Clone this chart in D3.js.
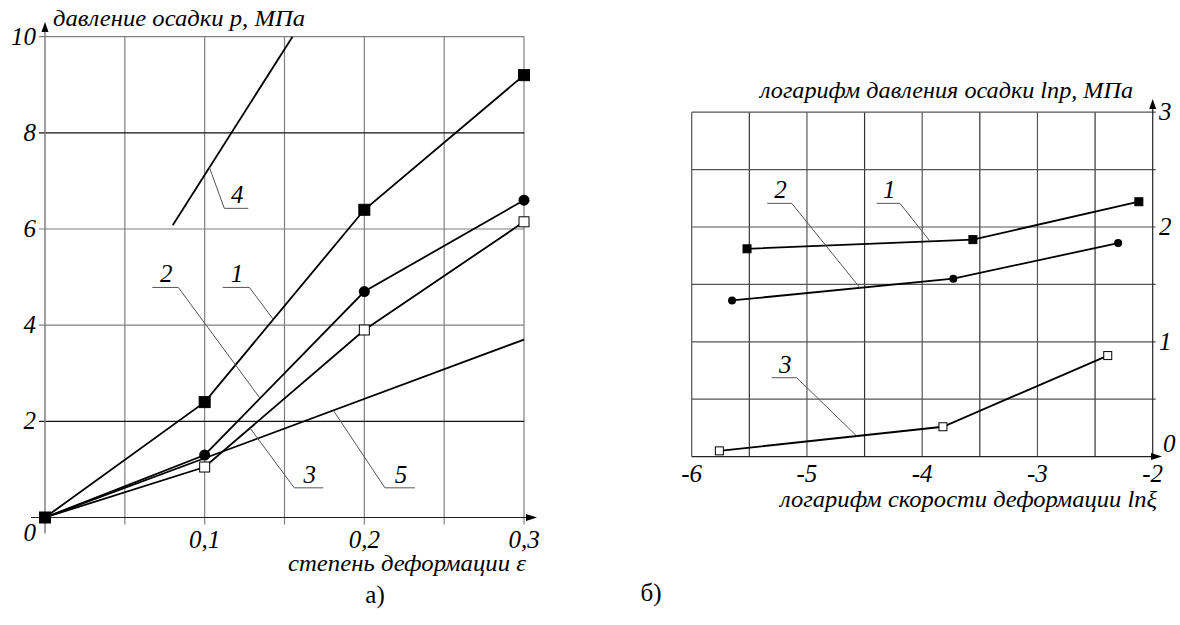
<!DOCTYPE html>
<html>
<head>
<meta charset="utf-8">
<script src="https://cdn.jsdelivr.net/npm/d3@7"></script>
<style>
  body { margin: 0; background: #fff; }
</style>
</head>
<body>
<script>
// ---- chart a): pressure vs strain ----
const strain = [0, 0.1, 0.2, 0.3];
const p1 = [0, 2.4, 6.4, 9.2];
const p2 = [0, 1.3, 4.7, 6.6];
const p3 = [0, 1.05, 3.9, 6.15];
const line4x = [0.08, 0.155];
const line4y = [6.08, 10];
const line5x = [0, 0.3];
const line5y = [0, 3.7];
const xTicksA = [0.1, 0.2, 0.3];
const xTickLabelsA = ["0,1", "0,2", "0,3"];
const yTicksA = [2, 4, 6, 8, 10];

// ---- chart б): ln p vs ln strain rate ----
const r1x = [-5.52, -3.56, -2.12];
const r1y = [1.81, 1.89, 2.22];
const r2x = [-5.65, -3.73, -2.30];
const r2y = [1.36, 1.55, 1.86];
const r3x = [-5.76, -3.82, -2.39];
const r3y = [0.05, 0.26, 0.88];
const xTicksB = [-6, -5, -4, -3, -2];
const yTicksB = [0, 1, 2, 3];

// callouts: label, target point on curve, elbow, underline end
const calloutsA = [
  {label: "4", tx: 0.103, ty: 7.28, ex: 0.1123, ey: 6.43, ux: 0.1273},
  {label: "2", tx: 0.1347, ty: 2.48, ex: 0.0835, ey: 4.785, ux: 0.0672},
  {label: "1", tx: 0.143, ty: 4.12, ex: 0.128, ey: 4.785, ux: 0.1113},
  {label: "3", tx: 0.1284, ty: 1.86, ex: 0.1561, ey: 0.617, ux: 0.1743},
  {label: "5", tx: 0.1806, ty: 2.227, ex: 0.2129, ey: 0.617, ux: 0.2317}
];
const calloutsB = [
  {label: "1", tx: -3.932, ty: 1.875, ex: -4.193, ey: 2.206, ux: -4.395},
  {label: "2", tx: -4.54, ty: 1.47, ex: -5.132, ey: 2.206, ux: -5.344},
  {label: "3", tx: -4.568, ty: 0.179, ex: -5.089, ey: 0.687, ux: -5.306}
];

const serif = "Liberation Serif, Times New Roman, Times, Tinos, DejaVu Serif, Noto Serif, FreeSerif, serif";

const svg = d3.select("body").append("svg")
  .attr("width", 1180).attr("height", 625)
  .attr("viewBox", [0, 0, 1180, 625])
  .style("font-family", serif);

svg.append("rect").attr("width", 1180).attr("height", 625).attr("fill", "#fff");

const zip = (xs, ys) => xs.map((d, i) => [d, ys[i]]);

function label(g, txt, x, y, size, opts = {}) {
  const t = g.append("text")
    .attr("x", x).attr("y", y)
    .style("font-family", serif)
    .style("font-style", opts.upright ? "normal" : "italic")
    .attr("font-size", size)
    .attr("text-anchor", opts.anchor || "start")
    .text(txt);
  if (opts.len) t.attr("textLength", opts.len).attr("lengthAdjust", "spacingAndGlyphs");
  return t;
}

function arrowUp(g, x, y) {
  g.append("path").attr("d", `M${x},${y} L${x - 3.5},${y + 10} L${x + 3.5},${y + 10} Z`).attr("fill", "#000");
}
function arrowRight(g, x, y) {
  g.append("path").attr("d", `M${x},${y} L${x - 11},${y - 3.5} L${x - 11},${y + 3.5} Z`).attr("fill", "#000");
}

function callouts(g, list, x, y) {
  list.forEach(c => {
    g.append("path")
      .attr("d", `M${x(c.tx)},${y(c.ty)} L${x(c.ex)},${y(c.ey)} L${x(c.ux)},${y(c.ey)}`)
      .attr("fill", "none").attr("stroke", "#555").attr("stroke-width", 1);
    label(g, c.label, (x(c.ex) + x(c.ux)) / 2 + 1, y(c.ey) - 5, 25, {anchor: "middle"});
  });
}

function markers(g, pts, type, size, x, y) {
  if (type === "circle") {
    g.selectAll(null).data(pts).join("circle")
      .attr("cx", d => x(d[0])).attr("cy", d => y(d[1])).attr("r", size / 2)
      .attr("fill", "#000");
  } else {
    g.selectAll(null).data(pts).join("rect")
      .attr("x", d => x(d[0]) - size / 2).attr("y", d => y(d[1]) - size / 2)
      .attr("width", size).attr("height", size)
      .attr("fill", type === "open" ? "#fff" : "#000")
      .attr("stroke", "#000").attr("stroke-width", 1);
  }
}

// ================= chart a) =================
{
  const x = d3.scaleLinear().domain([0, 0.3]).range([45, 524]);
  const y = d3.scaleLinear().domain([0, 10]).range([517.5, 36.7]);
  const g = svg.append("g");

  // grid
  g.selectAll(null).data(d3.range(1, 7).map(i => i * 0.05)).join("line")
    .attr("x1", d => x(d)).attr("x2", d => x(d))
    .attr("y1", y(10)).attr("y2", y(0) + 7)
    .attr("stroke", "#808080").attr("stroke-width", 1.2);
  g.selectAll(null).data(yTicksA).join("line")
    .attr("x1", x(0) - 6).attr("x2", x(0.3))
    .attr("y1", d => y(d)).attr("y2", d => y(d))
    .attr("stroke", d => (d === 2 || d === 8) ? "#111" : "#808080").attr("stroke-width", 1.2);

  // axes
  g.append("line").attr("x1", x(0)).attr("x2", x(0)).attr("y1", y(0) + 16).attr("y2", 30)
    .attr("stroke", "#777").attr("stroke-width", 1.4);
  arrowUp(g, x(0), 22);
  g.append("line").attr("x1", x(0) - 14).attr("x2", 530).attr("y1", y(0)).attr("y2", y(0))
    .attr("stroke", "#222").attr("stroke-width", 1.2);
  arrowRight(g, 537, y(0));

  // tick labels
  yTicksA.forEach(d => label(g, d, 36, y(d) + 8, 25, {anchor: "end"}));
  label(g, "0", 36, 541, 25, {anchor: "end"});
  xTicksA.forEach((d, i) => label(g, xTickLabelsA[i], x(d), 548, 25, {anchor: "middle"}));

  // titles
  label(g, "давление осадки p, МПа", 53, 26, 23, {len: 252});
  label(g, "степень деформации ε", 288, 571, 23, {len: 238});

  // curves
  const line = d3.line().x(d => x(d[0])).y(d => y(d[1]));
  [zip(strain, p1), zip(strain, p2), zip(strain, p3), zip(line4x, line4y), zip(line5x, line5y)]
    .forEach(pts => g.append("path").attr("d", line(pts))
      .attr("fill", "none").attr("stroke", "#000").attr("stroke-width", 1.8));

  callouts(g, calloutsA, x, y);

  markers(g, zip(strain, p2).slice(1), "circle", 11, x, y);
  markers(g, zip(strain, p3).slice(1), "open", 10, x, y);
  markers(g, zip(strain, p1), "filled", 11, x, y);

  label(svg, "а)", 375, 603, 25, {anchor: "middle", upright: true});
}

// ================= chart б) =================
{
  const x = d3.scaleLinear().domain([-6, -2]).range([691.7, 1152.7]);
  const y = d3.scaleLinear().domain([0, 3]).range([456.6, 112.2]);
  const g = svg.append("g");

  g.selectAll(null).data(d3.range(0, 8).map(i => -6 + i * 0.5)).join("line")
    .attr("x1", d => x(d)).attr("x2", d => x(d))
    .attr("y1", y(3)).attr("y2", y(0))
    .attr("stroke", (d, i) => i % 2 ? "#333" : "#555").attr("stroke-width", 1.2);
  g.selectAll(null).data(d3.range(1, 7).map(i => i * 0.5)).join("line")
    .attr("x1", x(-6)).attr("x2", x(-2) + 3)
    .attr("y1", d => y(d)).attr("y2", d => y(d))
    .attr("stroke", "#555").attr("stroke-width", 1.2);

  g.append("line").attr("x1", x(-2)).attr("x2", x(-2)).attr("y1", y(0)).attr("y2", 108)
    .attr("stroke", "#222").attr("stroke-width", 1.2);
  arrowUp(g, x(-2), 99);
  g.append("line").attr("x1", x(-6)).attr("x2", 1154).attr("y1", y(0)).attr("y2", y(0))
    .attr("stroke", "#222").attr("stroke-width", 1.2);
  arrowRight(g, 1162, y(0));

  yTicksB.forEach(d => label(g, d, d === 0 ? 1163 : 1159, d === 0 ? 452 : y(d) + 8, 25));
  xTicksB.forEach(d => label(g, d, x(d), 482, 25, {anchor: "middle"}));

  label(g, "логарифм давления осадки lnp, МПа", 760, 98, 23, {len: 373});
  label(g, "логарифм скорости деформации lnξ", 780, 507, 23, {len: 377});

  const line = d3.line().x(d => x(d[0])).y(d => y(d[1]));
  [zip(r1x, r1y), zip(r2x, r2y), zip(r3x, r3y)]
    .forEach(pts => g.append("path").attr("d", line(pts))
      .attr("fill", "none").attr("stroke", "#000").attr("stroke-width", 1.8));

  callouts(g, calloutsB, x, y);

  markers(g, zip(r1x, r1y), "filled", 8, x, y);
  markers(g, zip(r2x, r2y), "circle", 8, x, y);
  markers(g, zip(r3x, r3y), "open", 8, x, y);

  label(svg, "б)", 651, 601, 25, {anchor: "middle", upright: true});
}
</script>
</body>
</html>
